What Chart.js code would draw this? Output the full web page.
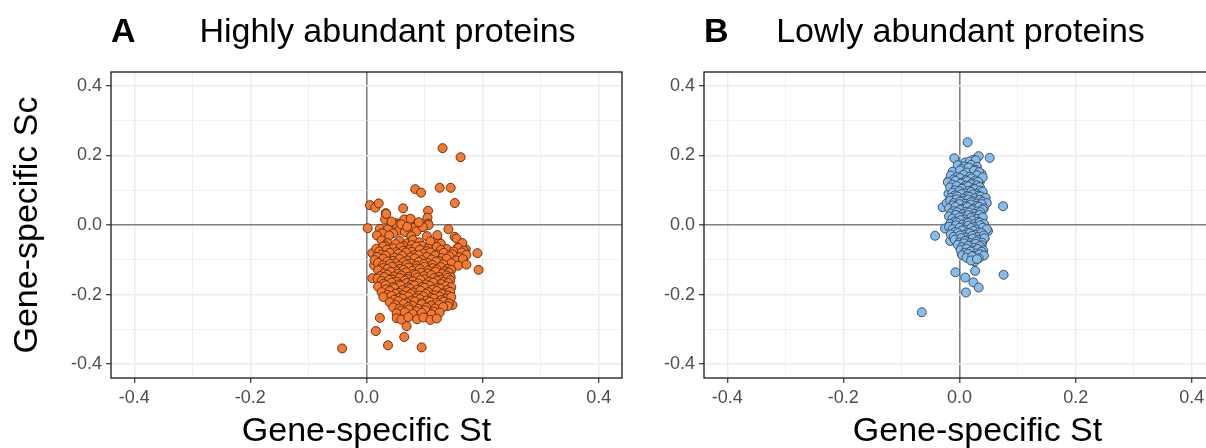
<!DOCTYPE html>
<html>
<head>
<meta charset="utf-8">
<script src="https://cdn.jsdelivr.net/npm/chart.js@4.4.1/dist/chart.umd.min.js"></script>
<style>
  html, body { margin: 0; padding: 0; background: #fff; }
  #wrap { position: relative; width: 1206px; height: 448px; overflow: hidden; }
  #left { position: absolute; left: 0; top: 0; }
  #right { position: absolute; left: 640px; top: 0; }
</style>
</head>
<body>
<div id="wrap">
  <canvas id="left" width="640" height="448"></canvas>
  <canvas id="right" width="600" height="448"></canvas>
</div>
<script>
// shared axis ticks (major every 0.2, minor in between)
const tickValues = [-0.4, -0.3, -0.2, -0.1, 0, 0.1, 0.2, 0.3, 0.4];
const axisMin = -0.44;
const axisMax = 0.44;

// panel A: highly abundant proteins, [St, Sc]
const highlyPoints = [
  [0.131, 0.221], [0.162, 0.195], [0.084, 0.103], [0.094, 0.093], [0.126, 0.107], [0.145, 0.107],
  [0.152, 0.063], [0.006, 0.057], [0.015, 0.050], [0.021, 0.062], [0.063, 0.048], [0.106, 0.041],
  [0.033, 0.034], [0.105, 0.021], [0.002, -0.009], [0.106, 0.004], [0.032, 0.016], [0.065, 0.016],
  [0.076, 0.018], [0.141, -0.012], [0.152, -0.034], [0.122, -0.043], [0.171, -0.070], [0.191, -0.081],
  [0.193, -0.129], [0.157, -0.066], [0.023, -0.267], [0.016, -0.305], [0.037, -0.346], [0.065, -0.322],
  [0.095, -0.352], [-0.042, -0.355], [0.069, -0.291], [0.148, -0.230], [0.010, -0.153], [0.010, -0.081],
  [0.013, -0.116], [0.098, -0.005], [0.083, -0.005], [0.052, 0.005], [0.055, -0.008],
  [0.034, 0.032], [0.107, 0.000], [0.082, -0.008], [0.023, -0.011], [0.037, -0.012], [0.052, 0.000],
  [0.056, -0.016], [0.066, -0.020], [0.086, -0.018], [0.097, -0.006], [0.122, -0.029], [0.027, -0.024],
  [0.046, -0.024], [0.077, -0.032], [0.104, -0.032], [0.155, -0.039], [0.043, 0.010], [0.060, 0.002],
  [0.090, 0.008], [0.018, -0.030], [0.070, -0.005], [0.039, -0.030],
  [0.026, -0.044], [0.036, -0.052], [0.057, -0.046], [0.070, -0.053], [0.080, -0.043], [0.091, -0.050], [0.110, -0.047], [0.165, -0.052],
  [0.032, -0.059], [0.050, -0.055], [0.064, -0.061], [0.078, -0.058], [0.095, -0.060], [0.128, -0.054],
  [0.017, -0.068], [0.029, -0.062], [0.046, -0.067], [0.059, -0.064], [0.075, -0.070], [0.086, -0.062], [0.106, -0.068], [0.121, -0.063], [0.138, -0.069], [0.158, -0.066],
  [0.022, -0.076], [0.035, -0.071], [0.051, -0.078], [0.063, -0.074], [0.078, -0.077], [0.092, -0.071], [0.104, -0.075], [0.128, -0.072], [0.150, -0.076], [0.168, -0.074],
  [0.026, -0.085], [0.040, -0.080], [0.055, -0.083], [0.068, -0.079], [0.083, -0.086], [0.098, -0.082], [0.110, -0.079], [0.121, -0.085], [0.133, -0.080], [0.148, -0.084], [0.164, -0.079], [0.172, -0.086],
  [0.018, -0.092], [0.033, -0.088], [0.048, -0.094], [0.062, -0.089], [0.076, -0.093], [0.090, -0.087], [0.104, -0.092], [0.118, -0.088], [0.130, -0.095], [0.143, -0.090], [0.160, -0.093],
  [0.014, -0.101], [0.029, -0.097], [0.046, -0.103], [0.057, -0.098], [0.070, -0.102], [0.083, -0.096], [0.095, -0.101], [0.112, -0.099], [0.125, -0.104], [0.138, -0.097], [0.155, -0.102], [0.166, -0.098],
  [0.020, -0.109], [0.036, -0.105], [0.050, -0.110], [0.064, -0.107], [0.077, -0.111], [0.090, -0.106], [0.105, -0.109], [0.120, -0.105], [0.146, -0.110],
  [0.028, -0.116], [0.041, -0.112], [0.056, -0.118], [0.069, -0.114], [0.086, -0.117], [0.099, -0.112], [0.114, -0.115], [0.132, -0.113], [0.158, -0.117], [0.172, -0.114],
  [0.028, -0.124], [0.044, -0.120], [0.058, -0.126], [0.072, -0.122], [0.086, -0.125], [0.100, -0.120], [0.114, -0.124], [0.128, -0.121], [0.140, -0.126],
  [0.020, -0.130], [0.036, -0.127], [0.052, -0.133], [0.064, -0.129], [0.079, -0.132], [0.092, -0.127], [0.106, -0.131], [0.121, -0.128], [0.135, -0.133], [0.146, -0.129],
  [0.030, -0.139], [0.042, -0.135], [0.055, -0.140], [0.068, -0.136], [0.081, -0.141], [0.094, -0.137], [0.106, -0.139], [0.119, -0.134], [0.131, -0.140], [0.142, -0.137],
  [0.023, -0.147], [0.036, -0.143], [0.047, -0.148], [0.060, -0.145], [0.072, -0.149], [0.085, -0.143], [0.099, -0.147], [0.112, -0.144], [0.125, -0.149], [0.138, -0.145], [0.145, -0.150],
  [0.019, -0.154], [0.031, -0.150], [0.044, -0.156], [0.057, -0.152], [0.070, -0.155], [0.088, -0.151], [0.100, -0.156], [0.116, -0.153], [0.128, -0.157], [0.140, -0.152],
  [0.026, -0.161], [0.039, -0.158], [0.052, -0.163], [0.066, -0.159], [0.080, -0.162], [0.093, -0.158], [0.108, -0.163], [0.121, -0.160], [0.132, -0.164], [0.144, -0.159],
  [0.029, -0.169], [0.043, -0.166], [0.056, -0.171], [0.069, -0.167], [0.077, -0.172], [0.089, -0.168], [0.102, -0.171], [0.115, -0.166], [0.129, -0.170], [0.141, -0.167],
  [0.020, -0.177], [0.033, -0.173], [0.046, -0.178], [0.059, -0.175], [0.072, -0.179], [0.083, -0.174], [0.096, -0.178], [0.109, -0.175], [0.123, -0.180], [0.137, -0.176], [0.146, -0.179],
  [0.033, -0.185], [0.048, -0.182], [0.062, -0.187], [0.075, -0.183], [0.088, -0.186], [0.100, -0.181], [0.114, -0.186], [0.127, -0.183], [0.139, -0.187],
  [0.026, -0.193], [0.040, -0.190], [0.055, -0.195], [0.069, -0.191], [0.080, -0.194], [0.093, -0.189], [0.106, -0.193], [0.121, -0.190], [0.133, -0.196], [0.144, -0.192],
  [0.036, -0.201], [0.050, -0.198], [0.063, -0.202], [0.076, -0.199], [0.090, -0.203], [0.102, -0.198], [0.117, -0.202], [0.130, -0.199], [0.141, -0.203],
  [0.029, -0.207], [0.043, -0.204], [0.057, -0.209], [0.072, -0.206], [0.086, -0.210], [0.098, -0.205], [0.112, -0.209], [0.126, -0.206], [0.138, -0.211], [0.146, -0.207],
  [0.048, -0.215], [0.062, -0.212], [0.078, -0.217], [0.092, -0.213], [0.104, -0.217], [0.116, -0.212], [0.129, -0.216],
  [0.040, -0.222], [0.055, -0.219], [0.069, -0.224], [0.083, -0.220], [0.095, -0.225], [0.109, -0.221], [0.121, -0.224], [0.133, -0.220], [0.142, -0.225],
  [0.050, -0.230], [0.064, -0.227], [0.079, -0.232], [0.095, -0.228], [0.111, -0.232], [0.125, -0.229], [0.140, -0.233],
  [0.046, -0.237], [0.057, -0.240], [0.072, -0.236], [0.089, -0.241], [0.103, -0.237], [0.118, -0.240], [0.132, -0.236],
  [0.060, -0.246], [0.073, -0.243], [0.086, -0.248], [0.101, -0.245], [0.116, -0.249],
  [0.052, -0.254], [0.066, -0.251], [0.080, -0.256], [0.095, -0.253], [0.112, -0.257], [0.126, -0.252],
  [0.052, -0.268], [0.060, -0.272], [0.072, -0.265], [0.087, -0.271], [0.098, -0.266], [0.110, -0.273], [0.121, -0.269]
];

// panel B: lowly abundant proteins, [St, Sc]
const lowlyPoints = [
  [0.014, 0.238], [-0.009, 0.192], [0.052, 0.193], [0.033, 0.198], [0.024, 0.188], [0.010, 0.180],
  [0.018, 0.183], [0.028, 0.186], [0.075, 0.054], [-0.042, -0.031], [-0.007, -0.136], [0.010, -0.151],
  [0.027, -0.132], [0.024, -0.165], [0.033, -0.180], [0.011, -0.194], [0.076, -0.143], [-0.065, -0.251],
  [-0.016, -0.046], [-0.025, -0.010], [-0.029, 0.051], [-0.022, 0.063], [-0.019, 0.090], [-0.019, 0.126],
  [-0.005, 0.157], [0.038, 0.147], [0.035, 0.125], [0.048, -0.016], [0.043, -0.039], [0.039, -0.082],
  [0.026, -0.105], [0.049, -0.017], [0.040, -0.086], [0.004, -0.084],
  [-0.003, 0.172], [0.008, 0.168], [0.020, 0.173], [0.030, 0.167],
  [0.004, 0.161], [0.016, 0.165], [0.027, 0.159],
  [-0.012, 0.153], [0.001, 0.157], [0.012, 0.151], [0.025, 0.156], [0.034, 0.152],
  [-0.015, 0.142], [-0.004, 0.138], [0.007, 0.144], [0.018, 0.139], [0.030, 0.143], [0.040, 0.137],
  [-0.010, 0.131], [0.001, 0.135], [0.011, 0.129], [0.021, 0.134], [0.028, 0.128],
  [-0.020, 0.123], [-0.007, 0.127], [0.003, 0.121], [0.013, 0.126], [0.022, 0.120], [0.032, 0.124],
  [-0.012, 0.116], [0.002, 0.119], [0.010, 0.113], [0.020, 0.117], [0.030, 0.114],
  [-0.016, 0.108], [-0.005, 0.112], [0.006, 0.106], [0.015, 0.111], [0.025, 0.105], [0.035, 0.109],
  [-0.008, 0.100], [0.004, 0.104], [0.016, 0.098], [0.026, 0.103], [0.036, 0.099],
  [-0.012, 0.093], [0.000, 0.097], [0.010, 0.091], [0.020, 0.095], [0.031, 0.090], [0.040, 0.096],
  [-0.008, 0.085], [0.003, 0.089], [0.013, 0.083], [0.023, 0.088], [0.033, 0.084],
  [-0.015, 0.078], [-0.004, 0.082], [0.007, 0.076], [0.017, 0.081], [0.027, 0.077], [0.037, 0.082], [0.045, 0.078],
  [-0.016, 0.070], [-0.005, 0.074], [0.005, 0.069], [0.015, 0.073], [0.025, 0.068], [0.035, 0.072],
  [-0.010, 0.063], [0.001, 0.067], [0.010, 0.061], [0.020, 0.066], [0.030, 0.062], [0.040, 0.067], [0.047, 0.063],
  [-0.012, 0.056], [0.000, 0.060], [0.011, 0.054], [0.020, 0.059], [0.030, 0.055], [0.038, 0.060],
  [-0.018, 0.048], [-0.007, 0.052], [0.004, 0.046], [0.014, 0.051], [0.024, 0.047], [0.034, 0.052], [0.042, 0.048],
  [-0.010, 0.040], [0.001, 0.044], [0.011, 0.038], [0.021, 0.043], [0.031, 0.039], [0.040, 0.044],
  [-0.015, 0.033], [-0.004, 0.037], [0.006, 0.031], [0.016, 0.036], [0.026, 0.032], [0.036, 0.037],
  [-0.018, 0.025], [-0.006, 0.029], [0.005, 0.023], [0.015, 0.028], [0.025, 0.024], [0.035, 0.029],
  [-0.012, 0.018], [0.000, 0.022], [0.010, 0.016], [0.020, 0.021], [0.030, 0.017], [0.040, 0.022],
  [-0.008, 0.010], [0.002, 0.014], [0.012, 0.008], [0.022, 0.013], [0.032, 0.009],
  [-0.016, 0.003], [-0.005, 0.007], [0.005, 0.001], [0.015, 0.006], [0.025, 0.002], [0.035, 0.007], [0.042, 0.003],
  [-0.018, -0.005], [-0.006, -0.001], [0.005, -0.007], [0.015, -0.002], [0.025, -0.006], [0.036, -0.001],
  [-0.012, -0.012], [0.000, -0.008], [0.010, -0.014], [0.020, -0.009], [0.030, -0.013], [0.040, -0.008], [0.047, -0.012],
  [-0.008, -0.020], [0.004, -0.016], [0.014, -0.022], [0.024, -0.017], [0.034, -0.021],
  [-0.015, -0.027], [-0.003, -0.023], [0.008, -0.029], [0.018, -0.024], [0.028, -0.028], [0.038, -0.023],
  [-0.010, -0.034], [0.001, -0.030], [0.012, -0.036], [0.022, -0.031], [0.032, -0.035], [0.042, -0.030],
  [-0.008, -0.042], [0.003, -0.038], [0.013, -0.044], [0.023, -0.039], [0.033, -0.043], [0.043, -0.038],
  [0.000, -0.050], [0.009, -0.046], [0.019, -0.052], [0.029, -0.047], [0.039, -0.051],
  [-0.003, -0.057], [0.008, -0.053], [0.018, -0.059], [0.028, -0.054], [0.038, -0.058],
  [0.004, -0.064], [0.015, -0.060], [0.025, -0.066], [0.035, -0.061],
  [0.002, -0.072], [0.012, -0.068], [0.022, -0.074], [0.032, -0.069], [0.041, -0.073],
  [0.009, -0.080], [0.019, -0.076], [0.029, -0.082], [0.038, -0.077],
  [0.005, -0.087], [0.015, -0.083], [0.025, -0.089], [0.035, -0.084], [0.042, -0.088],
  [0.012, -0.094], [0.022, -0.090], [0.033, -0.096],
  [0.020, -0.102], [0.030, -0.098]
];

const FONT = '"Liberation Sans", Arial, Helvetica, sans-serif';

function isMajor(v) {
  return Math.abs(Math.round(v * 10)) % 2 === 0;
}

// frame round the panel + tag, title and x title
const panelDecor = {
  id: 'panelDecor',
  afterDraw(chart, args, opts) {
    const ctx = chart.ctx;
    const a = chart.chartArea;
    ctx.save();
    ctx.strokeStyle = '#1a1a1a';
    ctx.lineWidth = 1.3;
    ctx.strokeRect(a.left, a.top, a.right - a.left, a.bottom - a.top);

    ctx.fillStyle = '#000';
    ctx.textBaseline = 'middle';
    ctx.textAlign = 'left';
    ctx.font = 'bold 34px ' + FONT;
    ctx.fillText(opts.tag, a.left, 33);

    const cx = (a.left + a.right) / 2;
    ctx.textAlign = 'center';
    ctx.font = '34px ' + FONT;
    ctx.fillText(opts.title, cx + opts.titleShift, 33);
    ctx.fillText(opts.xTitle, cx + opts.xTitleShift, 432);
    ctx.restore();
  }
};

function makeAxis(pos, fitSize, title) {
  return {
    type: 'linear',
    position: pos,
    min: axisMin,
    max: axisMax,
    afterBuildTicks: s => { s.ticks = tickValues.map(v => ({ value: v })); },
    afterFit: s => {
      if (pos === 'left') s.width = fitSize;
      else s.height = fitSize;
    },
    ticks: {
      autoSkip: false,
      maxRotation: 0,
      padding: 4,
      color: '#4d4d4d',
      font: { family: FONT, size: 18 },
      callback: v => isMajor(v) ? v.toFixed(1) : ''
    },
    grid: {
      color: c => c.tick.value === 0 ? '#7f7f7f' : '#ebebeb',
      lineWidth: c => c.tick.value === 0 ? 1.6 : (isMajor(c.tick.value) ? 1.4 : 0.7),
      tickLength: 5,
      tickWidth: 1.2,
      tickColor: c => isMajor(c.tick.value) ? '#333333' : 'rgba(0,0,0,0)'
    },
    border: { display: false },
    title: title ? {
      display: true,
      text: title,
      color: '#000',
      font: { family: FONT, size: 34, lineHeight: 1.0 },
      padding: { top: 11, bottom: 0 }
    } : { display: false }
  };
}

function makePanel(canvasId, points, fill, edge, yWidth, padRight, yTitle, decor) {
  new Chart(document.getElementById(canvasId), {
    type: 'scatter',
    data: {
      datasets: [{
        data: points.map(p => ({ x: p[0], y: p[1] })),
        backgroundColor: fill,
        borderColor: edge,
        borderWidth: 1,
        pointRadius: 4.5,
        pointHoverRadius: 4.5
      }]
    },
    plugins: [panelDecor],
    options: {
      responsive: false,
      animation: false,
      layout: { padding: { top: 72, right: padRight, left: 0, bottom: 0 } },
      scales: {
        x: makeAxis('bottom', 70, null),
        y: makeAxis('left', yWidth, yTitle)
      },
      plugins: {
        legend: { display: false },
        tooltip: { enabled: false },
        panelDecor: decor
      }
    }
  });
}

makePanel('left', highlyPoints, '#f47a33', '#6b2f0c', 111, 18, 'Gene-specific Sc',
  { tag: 'A', title: 'Highly abundant proteins', titleShift: 21, xTitle: 'Gene-specific St', xTitleShift: 0 });

makePanel('right', lowlyPoints, '#86bdec', '#3e4f63', 64, 25, null,
  { tag: 'B', title: 'Lowly abundant proteins', titleShift: 1, xTitle: 'Gene-specific St', xTitleShift: 18 });
</script>
</body>
</html>
